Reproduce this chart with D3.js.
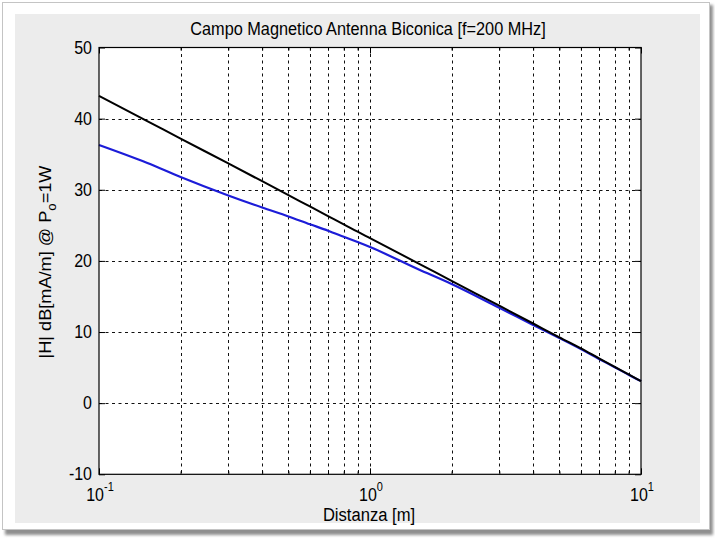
<!DOCTYPE html>
<html>
<head>
<meta charset="utf-8">
<script src="https://cdn.jsdelivr.net/npm/d3@7"></script>
<style>
    body { margin: 0; background: #fff; }
    text { font-family: "Liberation Sans", Arial, sans-serif; fill: #000; }
</style>
</head>
<body>
<div class="chart_container"></div>
<script>
//^ DATA //
const distances = [0.1, 0.15, 0.2, 0.3, 0.4, 0.5, 0.6, 0.7, 0.8, 0.9, 1, 1.5, 2, 3, 4, 5, 6, 7, 8, 9, 10];
const blackField = [43.2, 39.7, 37.2, 33.7, 31.2, 29.25, 27.65, 26.3, 25.15, 24.1, 23.2, 19.7, 17.2, 13.7, 11.2, 9.25, 7.7, 6.3, 5.1, 4.05, 3.1];
const blueField = [36.3, 33.8, 31.8, 29.2, 27.5, 26.25, 25.15, 24.25, 23.4, 22.65, 21.95, 18.85, 16.75, 13.4, 11.0, 9.15, 7.6, 6.22, 5.05, 4.0, 3.1];
const yTicks = [-10, 0, 10, 20, 30, 40, 50];
const xDecades = [0.1, 1, 10];
const xDecadeExp = ["-1", "0", "1"];
const titleText = "Campo Magnetico Antenna Biconica [f=200 MHz]";
const xLabelText = "Distanza [m]";

//^ DIMENSIONS //
const width = 715;
const height = 539;
const plot = { left: 99, right: 641, top: 47.5, bottom: 474.3 };

const svg = d3.select(".chart_container").append("svg").attr("width", width).attr("height", height);

//^ WINDOW FRAME //
const defs = svg.append("defs");
defs.append("filter").attr("id", "blur").append("feGaussianBlur").attr("stdDeviation", 1.6);
svg.append("rect").attr("x", 5).attr("y", 5).attr("width", 708).attr("height", 530).attr("fill", "#8f8f8f").attr("filter", "url(#blur)");
svg.append("rect").attr("x", 2.5).attr("y", 2.5).attr("width", 707).attr("height", 527).attr("fill", "#fff").attr("stroke", "#c4c4c4");
svg.append("rect").attr("x", 15).attr("y", 14).attr("width", 685).attr("height", 509).attr("fill", "#ececec");

//^ SCALES //
const xScale = d3.scaleLog().domain([0.1, 10]).range([plot.left, plot.right]);
const yScale = d3.scaleLinear().domain([-10, 50]).range([plot.bottom, plot.top]);
const minorTicks = xScale.ticks();

svg.append("rect")
    .attr("x", plot.left).attr("y", plot.top)
    .attr("width", plot.right - plot.left).attr("height", plot.bottom - plot.top)
    .attr("fill", "#fff");

//^ GRID //
const grid = svg.append("g").attr("stroke", "#111").attr("stroke-width", 1).attr("stroke-dasharray", "3,3.5");
grid.selectAll(".vgrid")
    .data(minorTicks.filter((d) => d > 0.1 && d < 10))
    .enter()
    .append("line")
    .attr("x1", (d) => Math.round(xScale(d)) + 0.5)
    .attr("x2", (d) => Math.round(xScale(d)) + 0.5)
    .attr("y1", plot.top)
    .attr("y2", plot.bottom);
grid.selectAll(".hgrid")
    .data(yTicks.slice(1, -1))
    .enter()
    .append("line")
    .attr("x1", plot.left)
    .attr("x2", plot.right)
    .attr("y1", (d) => Math.round(yScale(d)) + 0.5)
    .attr("y2", (d) => Math.round(yScale(d)) + 0.5);

//^ TICKS (inward, all four sides) //
const noDomain = (g) => g.select(".domain").remove();
svg.append("g").attr("transform", `translate(0,${plot.bottom})`)
    .call(d3.axisBottom(xScale).tickValues(xDecades).tickSize(-6).tickFormat("")).call(noDomain);
svg.append("g").attr("transform", `translate(0,${plot.top})`)
    .call(d3.axisTop(xScale).tickValues(xDecades).tickSize(-6).tickFormat("")).call(noDomain);
svg.append("g").attr("transform", `translate(0,${plot.bottom})`)
    .call(d3.axisBottom(xScale).tickValues(minorTicks).tickSize(-3).tickFormat("")).call(noDomain);
svg.append("g").attr("transform", `translate(0,${plot.top})`)
    .call(d3.axisTop(xScale).tickValues(minorTicks).tickSize(-3).tickFormat("")).call(noDomain);
svg.append("g").attr("transform", `translate(${plot.left},0)`)
    .call(d3.axisLeft(yScale).tickValues(yTicks).tickSize(-6).tickFormat("")).call(noDomain);
svg.append("g").attr("transform", `translate(${plot.right},0)`)
    .call(d3.axisRight(yScale).tickValues(yTicks).tickSize(-6).tickFormat("")).call(noDomain);

//^ LINES //
const line = (values) => d3.line()
    .x((d, i) => xScale(distances[i]))
    .y((d) => yScale(d))
    .curve(d3.curveMonotoneX)(values);

svg.append("path").attr("d", line(blueField)).attr("fill", "none").attr("stroke", "#1c1cd8").attr("stroke-width", 2.2);
svg.append("path").attr("d", line(blackField)).attr("fill", "none").attr("stroke", "#000").attr("stroke-width", 2);

//^ AXES BOX //
svg.append("rect")
    .attr("x", plot.left).attr("y", plot.top)
    .attr("width", plot.right - plot.left).attr("height", plot.bottom - plot.top)
    .attr("fill", "none").attr("stroke", "#000").attr("stroke-width", 1.2);

//^ TICK LABELS //
svg.selectAll(".ylab")
    .data(yTicks)
    .enter()
    .append("text")
    .attr("transform", (d) => `translate(92,${yScale(d) + 6}) scale(1,1.1)`)
    .attr("text-anchor", "end")
    .attr("font-size", 16)
    .text((d) => d);

const xLabels = svg.selectAll(".xlab")
    .data(xDecades)
    .enter()
    .append("text")
    .attr("transform", (d) => `translate(${xScale(d) + 1},500.5) scale(1,1.1)`)
    .attr("text-anchor", "middle")
    .attr("font-size", 16);
xLabels.append("tspan").text("10");
xLabels.append("tspan").attr("font-size", 11).attr("dy", -9).text((d, i) => xDecadeExp[i]);

//^ TITLES //
svg.append("text")
    .attr("transform", "translate(368,35) scale(1,1.07)")
    .attr("text-anchor", "middle")
    .attr("font-size", 16.3)
    .text(titleText);

svg.append("text")
    .attr("transform", "translate(369,521) scale(1,1.05)")
    .attr("text-anchor", "middle")
    .attr("font-size", 16.6)
    .text(xLabelText);

const yLabel = svg.append("text")
    .attr("transform", "translate(51,262) rotate(-90) scale(1.1,1)")
    .attr("text-anchor", "middle")
    .attr("font-size", 16.5);
yLabel.append("tspan").text("|H| dB[mA/m] @ P");
yLabel.append("tspan").attr("font-size", 12).attr("dy", 5).text("o");
yLabel.append("tspan").attr("dy", -5).text("=1W");
</script>
</body>
</html>
